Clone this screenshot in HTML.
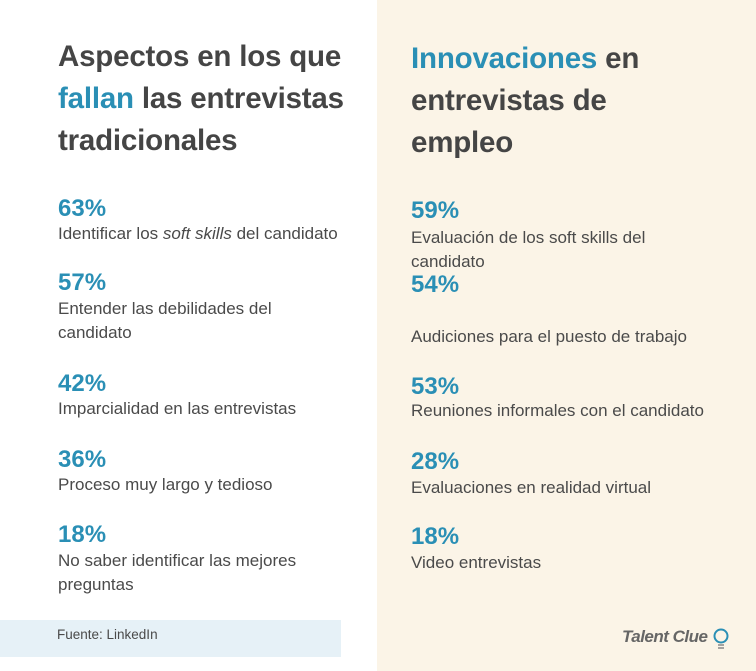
<!DOCTYPE html>
<html><head><meta charset="utf-8"><style>
body{margin:0;width:756px;height:671px;position:relative;overflow:hidden;background:#fff;font-family:"Liberation Sans",sans-serif;color:#4a4a4a}
.r{position:absolute;left:377px;top:0;width:379px;height:671px;background:#fbf4e7}
.t{position:absolute;font-weight:bold;font-size:29.5px;line-height:42px;color:#454545;letter-spacing:-0.2px;white-space:nowrap}
.b{color:#2a8fb5}
.p{position:absolute;font-weight:bold;font-size:24px;line-height:26px;color:#2a8fb5}
.d{position:absolute;font-size:17px;line-height:24px;color:#4a4a4a;white-space:nowrap}
</style></head><body>
<div class="r"></div>
<div class="t" style="left:58px;top:36px">Aspectos en los que<br><span class="b">fallan</span> las entrevistas<br>tradicionales</div>
<div class="t" style="left:411px;top:38px"><span class="b">Innovaciones</span> en<br>entrevistas de<br>empleo</div>

<div class="p" style="left:58px;top:196px">63%</div>
<div class="d" style="left:58px;top:222px">Identificar los <i>soft skills</i> del candidato</div>
<div class="p" style="left:58px;top:270px">57%</div>
<div class="d" style="left:58px;top:297px">Entender las debilidades del<br>candidato</div>
<div class="p" style="left:58px;top:371px">42%</div>
<div class="d" style="left:58px;top:397px">Imparcialidad en las entrevistas</div>
<div class="p" style="left:58px;top:447px">36%</div>
<div class="d" style="left:58px;top:473px">Proceso muy largo y tedioso</div>
<div class="p" style="left:58px;top:522px">18%</div>
<div class="d" style="left:58px;top:549px">No saber identificar las mejores<br>preguntas</div>

<div class="p" style="left:411px;top:198px">59%</div>
<div class="d" style="left:411px;top:226px">Evaluación de los soft skills del<br>candidato</div>
<div class="p" style="left:411px;top:272px">54%</div>
<div class="d" style="left:411px;top:325px">Audiciones para el puesto de trabajo</div>
<div class="p" style="left:411px;top:374px">53%</div>
<div class="d" style="left:411px;top:399px">Reuniones informales con el candidato</div>
<div class="p" style="left:411px;top:449px">28%</div>
<div class="d" style="left:411px;top:476px">Evaluaciones en realidad virtual</div>
<div class="p" style="left:411px;top:524px">18%</div>
<div class="d" style="left:411px;top:551px">Video entrevistas</div>

<div style="position:absolute;left:0;top:620px;width:341px;height:37px;background:#e6f1f7"></div>
<div style="position:absolute;left:57px;top:627px;font-size:13.5px;color:#4a4a4a">Fuente: LinkedIn</div>
<div style="position:absolute;left:622px;top:627px;font-size:17px;font-weight:bold;font-style:italic;color:#666;letter-spacing:-0.5px">Talent Clue</div>
<svg style="position:absolute;left:713px;top:628px" width="18" height="24" viewBox="0 0 18 24"><circle cx="8" cy="8" r="6.5" fill="none" stroke="#2a8fb5" stroke-width="2"/><line x1="5" y1="17" x2="11" y2="17" stroke="#888" stroke-width="1.5"/><line x1="5" y1="20" x2="11" y2="20" stroke="#888" stroke-width="1.5"/></svg>
</body></html>
